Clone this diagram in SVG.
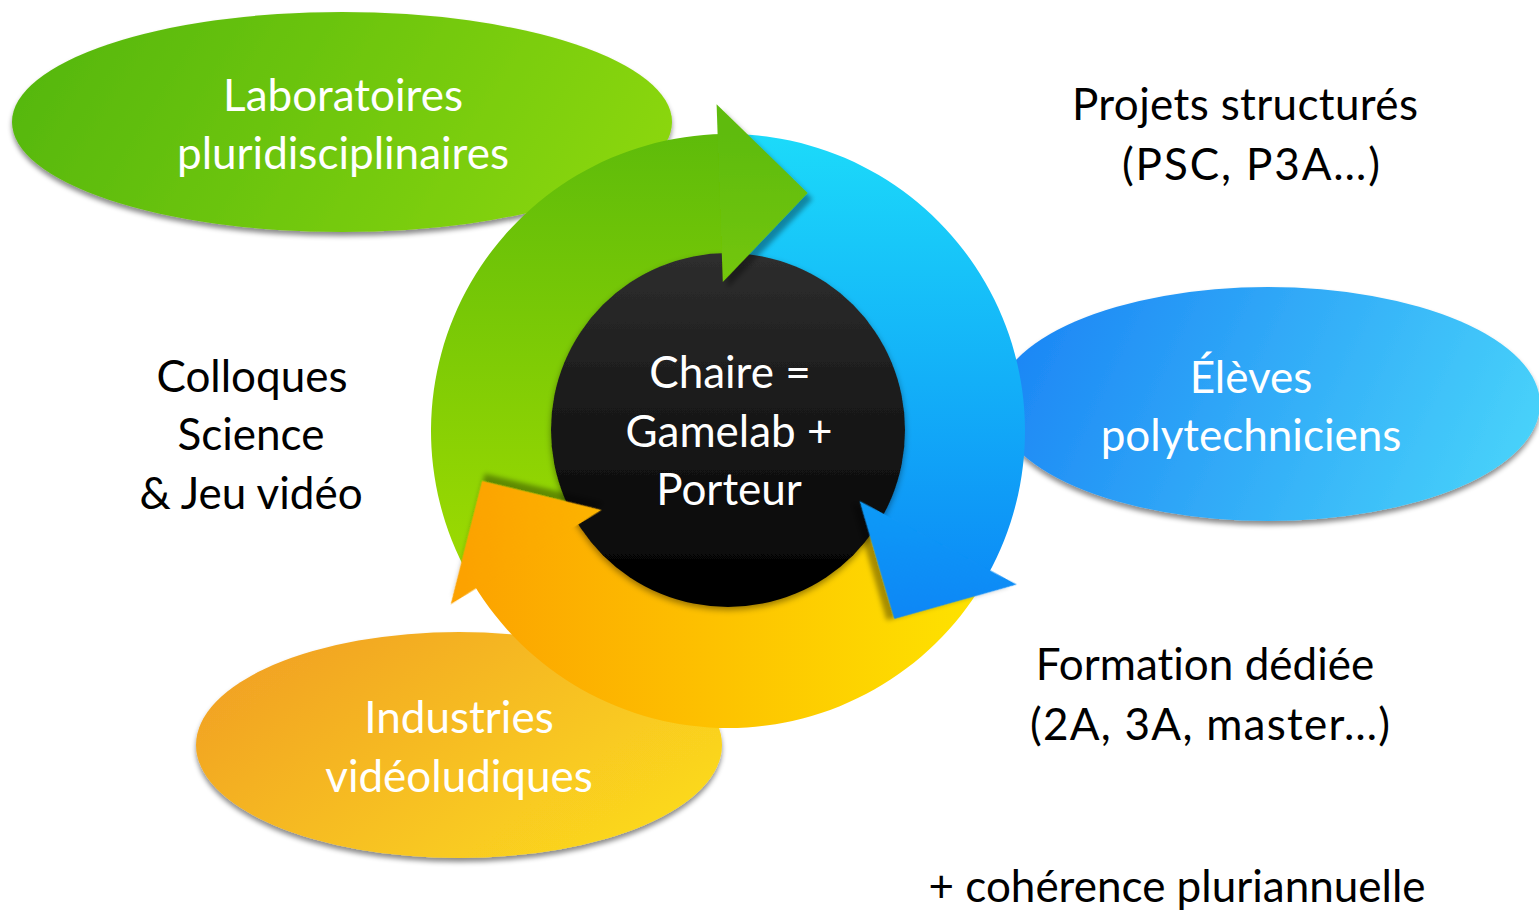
<svg xmlns="http://www.w3.org/2000/svg" xmlns:xlink="http://www.w3.org/1999/xlink" width="1539" height="912" viewBox="0 0 1539 912">
  <style>
    .lbl { font-family: Lato, "Open Sans", "Liberation Sans", sans-serif; font-size: 44px; text-anchor: middle; font-variant-ligatures: none; }
    .white { fill: #ffffff; }
    .dark { fill: #000000; }
  </style>
  <defs>
    <!-- soft drop shadows -->
    <filter id="ovalShadow" x="-10%" y="-10%" width="120%" height="130%">
      <feDropShadow dx="0" dy="4" stdDeviation="2.5" flood-color="#000" flood-opacity="0.45"/>
    </filter>
    <filter id="headShadow" x="-30%" y="-30%" width="160%" height="160%">
      <feDropShadow dx="5" dy="6" stdDeviation="2.5" flood-color="#000" flood-opacity="0.35"/>
    </filter>
    <filter id="hubShadow" x="-10%" y="-10%" width="120%" height="125%">
      <feDropShadow dx="0" dy="3" stdDeviation="3" flood-color="#000" flood-opacity="0.4"/>
    </filter>

    <!-- oval fills -->
    <linearGradient id="gOvalGreen" x1="0" y1="0.3" x2="1" y2="0.5">
      <stop offset="0" stop-color="#55b70c"/>
      <stop offset="1" stop-color="#8ad60a"/>
    </linearGradient>
    <linearGradient id="gOvalBlue" x1="0" y1="0.4" x2="1" y2="0.6">
      <stop offset="0" stop-color="#1c86f5"/>
      <stop offset="1" stop-color="#48d2fa"/>
    </linearGradient>
    <linearGradient id="gOvalOrange" x1="0" y1="0.2" x2="1" y2="0.8">
      <stop offset="0" stop-color="#f1a025"/>
      <stop offset="1" stop-color="#fcdc1e"/>
    </linearGradient>
    <linearGradient id="gHub" x1="0" y1="0" x2="0" y2="1">
      <stop offset="0" stop-color="#2e2e2e"/>
      <stop offset="1" stop-color="#000000"/>
    </linearGradient>

    <!-- arrow fills, given in screen orientation around the hub centre;
         the counter-rotation cancels each arrow's own rotate() -->
    <linearGradient id="gArrowGreen" gradientUnits="userSpaceOnUse" x1="0" y1="-300" x2="0" y2="160">
      <stop offset="0" stop-color="#5ebb0a"/>
      <stop offset="1" stop-color="#a0dc00"/>
    </linearGradient>
    <linearGradient id="gArrowBlue" gradientUnits="userSpaceOnUse" x1="0" y1="-300" x2="0" y2="200" gradientTransform="rotate(-120)">
      <stop offset="0" stop-color="#1cdbfa"/>
      <stop offset="1" stop-color="#0a84f6"/>
    </linearGradient>
    <linearGradient id="gArrowOrange" gradientUnits="userSpaceOnUse" x1="-290" y1="0" x2="260" y2="0" gradientTransform="rotate(-240)">
      <stop offset="0" stop-color="#fc9f00"/>
      <stop offset="1" stop-color="#fee400"/>
    </linearGradient>

    <!-- one third of the cycle: curved band (151deg to 269deg) and its head -->
    <path id="arcBody" d="M -259.76 143.99 A 297 297 0 0 1 -5.18 -296.95 L -3.05 -174.97 A 175 175 0 0 0 -153.06 84.84 Z"/>
    <path id="arcHead" d="M -11.41 -326.80 L 79.64 -238.03 L -5.20 -148.91 Z"/>
  </defs>

  <rect width="1539" height="912" fill="#ffffff"/>

  <!-- ovals -->
  <g id="node-laboratoires">
    <ellipse cx="342" cy="122" rx="330" ry="110" fill="url(#gOvalGreen)" filter="url(#ovalShadow)"/>
    <text class="lbl white" x="343" y="111">Laboratoires</text>
    <text class="lbl white" x="343" y="169">pluridisciplinaires</text>
  </g>
  <g id="node-eleves">
    <ellipse cx="1268" cy="404" rx="272" ry="117" fill="url(#gOvalBlue)" filter="url(#ovalShadow)"/>
    <text class="lbl white" x="1251" y="393">Élèves</text>
    <text class="lbl white" x="1251" y="451">polytechniciens</text>
  </g>
  <g id="node-industries">
    <ellipse cx="459" cy="745" rx="263" ry="113" fill="url(#gOvalOrange)" filter="url(#ovalShadow)"/>
    <text class="lbl white" x="459" y="733">Industries</text>
    <text class="lbl white" x="459" y="792">vidéoludiques</text>
  </g>

  <!-- cycle arrows -->
  <g id="connectors" transform="translate(728 431)">
    <use xlink:href="#arcBody" href="#arcBody" transform="rotate(240)" fill="url(#gArrowOrange)"/>
    <use xlink:href="#arcBody" href="#arcBody" transform="rotate(120)" fill="url(#gArrowBlue)"/>
    <use xlink:href="#arcBody" href="#arcBody" fill="url(#gArrowGreen)"/>
  </g>

  <!-- hub -->
  <g id="node-chaire">
    <circle cx="728" cy="430" r="177" fill="url(#gHub)" filter="url(#hubShadow)"/>
  </g>

  <g id="connector-heads" transform="translate(728 431)">
    <use xlink:href="#arcHead" href="#arcHead" transform="rotate(240)" fill="url(#gArrowOrange)" filter="url(#headShadow)"/>
    <use xlink:href="#arcHead" href="#arcHead" transform="rotate(120)" fill="url(#gArrowBlue)" filter="url(#headShadow)"/>
    <use xlink:href="#arcHead" href="#arcHead" fill="url(#gArrowGreen)" filter="url(#headShadow)"/>
  </g>

  <g id="node-chaire-label">
    <text class="lbl white" x="730" y="388">Chaire =</text>
    <text class="lbl white" x="729" y="447">Gamelab +</text>
    <text class="lbl white" x="729" y="505">Porteur</text>
  </g>

  <!-- free labels -->
  <g id="node-projets">
    <text class="lbl dark" x="1245" y="120" textLength="346" lengthAdjust="spacing">Projets structurés</text>
    <text class="lbl dark" x="1251" y="180" textLength="258" lengthAdjust="spacing">(PSC, P3A…)</text>
  </g>
  <g id="node-colloques">
    <text class="lbl dark" x="252" y="392">Colloques</text>
    <text class="lbl dark" x="251" y="450">Science</text>
    <text class="lbl dark" x="251" y="509">&amp; Jeu vidéo</text>
  </g>
  <g id="node-formation">
    <text class="lbl dark" x="1205" y="680">Formation dédiée</text>
    <text class="lbl dark" x="1210" y="740" textLength="360" lengthAdjust="spacing">(2A, 3A, master…)</text>
  </g>
  <g id="node-coherence">
    <text class="lbl dark" x="1177" y="902">+ cohérence pluriannuelle</text>
  </g>
</svg>
